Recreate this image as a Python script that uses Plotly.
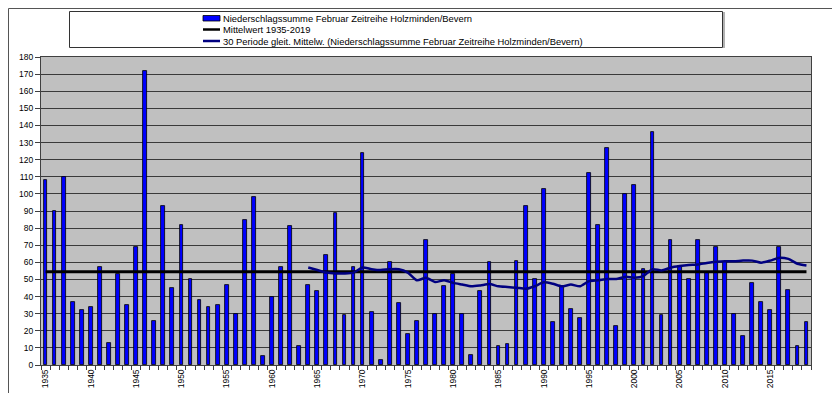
import plotly.graph_objects as go

years = list(range(1935, 2020))
precip = [108, 90, 110, 37, 32, 34, 57, 13, 53, 35,
          69, 172, 26, 93, 45, 82, 50, 38, 34, 35,
          47, 30, 85, 98, 5, 40, 57, 81, 11, 47,
          43, 64, 89, 29, 57, 124, 31, 3, 60, 36,
          18, 26, 73, 30, 46, 53, 30, 6, 43, 60,
          11, 12.5, 61, 93, 50, 103, 25, 46, 33, 27.5,
          112, 82, 127, 23, 100, 105, 56, 136, 29, 73,
          58, 50, 73, 54, 69, 60, 30, 17, 48, 37,
          32, 69, 44, 11, 25]
mean_value = 54.5
ma_years = list(range(1964, 2020))
ma_values = [57, 55.5, 54, 53.5, 53.5, 54, 57, 56, 55.5, 56,
             56, 54, 49.5, 51, 48.5, 49.5, 48, 47, 46, 46.5,
             47.3, 46, 45.6, 45.2, 44.5, 46, 48.3, 47.5, 46, 47,
             46, 49, 49.5, 50.3, 50.3, 51.5, 51, 52, 56, 55.3,
             56.9, 57.8, 58.4, 58.7, 59.6, 60.3, 60.7, 60.6, 61, 61,
             59.8, 61, 62.7, 62, 59.2, 58.2]
x_tick_years = list(range(1935, 2020, 5))
y_ticks = list(range(0, 181, 10))

names = ["Niederschlagssumme Februar Zeitreihe Holzminden/Bevern",
         "Mittelwert 1935-2019",
         "30 Periode gleit. Mittelw. (Niederschlagssumme Februar Zeitreihe Holzminden/Bevern)"]

W, H = 840, 393
L, R, T, B = 33, 803, 49, 357
FONT = "Arial, Liberation Sans, sans-serif"

def px(x):
    return (x - L) / (R - L)

def py(y):
    return (B - y) / (B - T)

fig = go.Figure()
fig.add_trace(go.Bar(x=years, y=precip, width=0.42, name=names[0],
                     marker=dict(color="#0000FF", line=dict(color="#000000", width=0.8))))
fig.add_trace(go.Scatter(x=[years[0], years[-1]], y=[mean_value, mean_value], mode="lines",
                         name=names[1], line=dict(color="#000000", width=3)))
fig.add_trace(go.Scatter(x=ma_years, y=ma_values, mode="lines", name=names[2],
                         line=dict(color="#000080", width=2.5, shape="spline", smoothing=0.6)))

shapes = []
# outer border
shapes.append(dict(type="rect", xref="paper", yref="paper", x0=px(0.5), x1=px(838.5),
                   y0=py(390.5), y1=py(0.5), line=dict(color="#555555", width=1)))
# legend box shadow + box
shapes.append(dict(type="line", xref="paper", yref="paper", x0=px(716), x1=px(716),
                   y0=py(40), y1=py(4), line=dict(color="#999999", width=1.5)))
shapes.append(dict(type="rect", xref="paper", yref="paper", x0=px(61.5), x1=px(714.5),
                   y0=py(39.5), y1=py(3.5), line=dict(color="#333333", width=1),
                   fillcolor="white"))
# legend symbols
shapes.append(dict(type="rect", xref="paper", yref="paper", x0=px(195), x1=px(212),
                   y0=py(13), y1=py(7.5), line=dict(color="#000000", width=0.8),
                   fillcolor="#0000FF"))
shapes.append(dict(type="line", xref="paper", yref="paper", x0=px(195), x1=px(212),
                   y0=py(21.5), y1=py(21.5), line=dict(color="#000000", width=2.5)))
shapes.append(dict(type="line", xref="paper", yref="paper", x0=px(195), x1=px(212),
                   y0=py(33), y1=py(33), line=dict(color="#000080", width=2.5)))

annotations = []
for name, yy in zip(names, [10.3, 21.7, 33.2]):
    annotations.append(dict(xref="paper", yref="paper", x=px(212.5), y=py(yy),
                            xanchor="left", yanchor="middle", text=name, showarrow=False,
                            font=dict(family=FONT, size=9.4, color="#000000")))

fig.update_layout(
    width=W, height=H,
    margin=dict(l=L, r=W - R, t=T, b=H - B, pad=0),
    paper_bgcolor="white", plot_bgcolor="#C0C0C0",
    showlegend=False, bargap=0,
    shapes=shapes, annotations=annotations,
    font=dict(family=FONT, size=8, color="#000000"),
)
fig.update_xaxes(
    range=[1934.5, 2019.5], tickmode="array", tickvals=x_tick_years,
    ticktext=[str(v) for v in x_tick_years], tickangle=-90, ticks="",
    tickfont=dict(family=FONT, size=8.5, color="#000000"),
    showgrid=False, zeroline=False,
    showline=True, linecolor="#404040", linewidth=1, mirror=True,
    minor=dict(tick0=1934.5, dtick=1, ticks="outside", ticklen=4,
               tickcolor="#404040", tickwidth=1, showgrid=False),
)
fig.update_yaxes(
    range=[0, 180], tickmode="array", tickvals=y_ticks,
    ticks="outside", ticklen=5, tickcolor="#404040", tickwidth=1,
    tickfont=dict(family=FONT, size=8.5, color="#000000"),
    showgrid=True, gridcolor="#3a3a3a", gridwidth=1, zeroline=False,
    showline=True, linecolor="#404040", linewidth=1, mirror=True,
)

fig.write_html("out.html")
